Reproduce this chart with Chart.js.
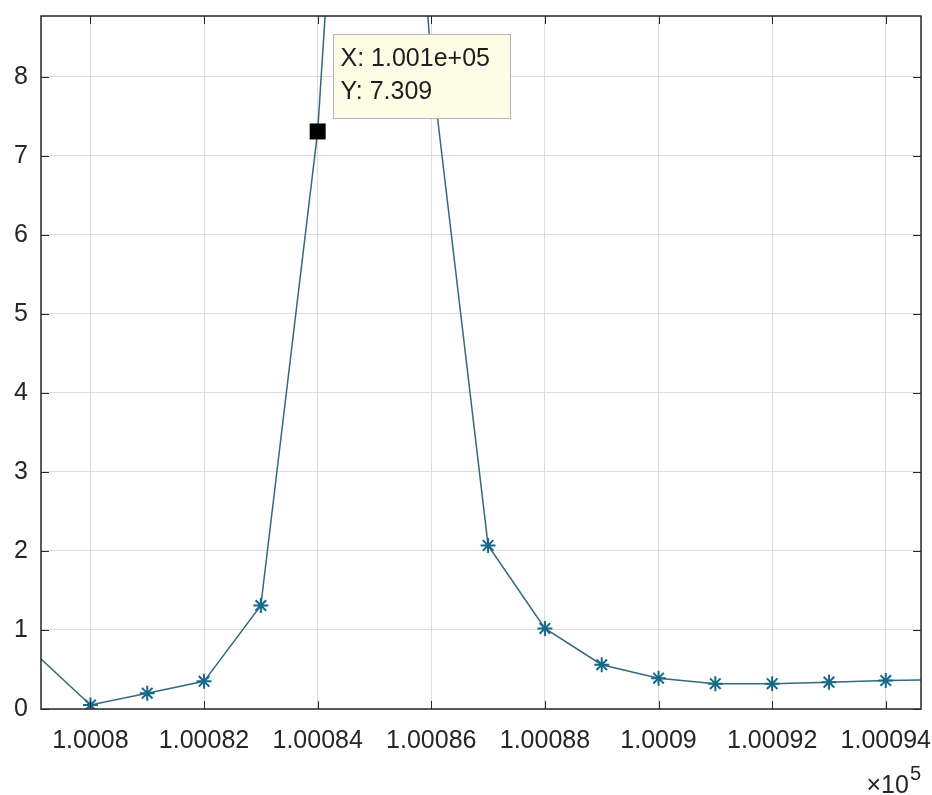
<!DOCTYPE html>
<html>
<head>
<meta charset="utf-8">
<script src="https://cdn.jsdelivr.net/npm/chart.js@4/dist/chart.umd.min.js"></script>
<style>
html,body{margin:0;padding:0;background:#fff;}
#wrap{width:932px;height:795px;position:relative;}
</style>
</head>
<body>
<div id="wrap"><canvas id="c" width="932" height="795"></canvas></div>
<script>
// ---- data ----
const xValues = [100079, 100080, 100081, 100082, 100083, 100084, 100085, 100086, 100087, 100088, 100089, 100090, 100091, 100092, 100093, 100094, 100095];
const yValues = [0.72, 0.05, 0.20, 0.35, 1.31, 7.309, 18.5, 8.15, 2.07, 1.02, 0.56, 0.39, 0.32, 0.32, 0.34, 0.36, 0.37];
const xTicks = [100080, 100082, 100084, 100086, 100088, 100090, 100092, 100094];
const xTickLabels = ['1.0008', '1.00082', '1.00084', '1.00086', '1.00088', '1.0009', '1.00092', '1.00094'];
const yTicks = [0, 1, 2, 3, 4, 5, 6, 7, 8];
const yTickLabels = ['0', '1', '2', '3', '4', '5', '6', '7', '8'];
const xRange = [100079.13, 100094.62];
const yRange = [0, 8.77];
const tipIndex = 5;
const axisExponent = '5';

const FONT = "'Liberation Sans', Arial, Helvetica, sans-serif";
const TXT = '#262626';

function fmtTipX(v) {
  const e = Math.floor(Math.log10(Math.abs(v)));
  const m = (v / Math.pow(10, e)).toFixed(3);
  return m + 'e' + (e >= 0 ? '+' : '-') + String(Math.abs(e)).padStart(2, '0');
}

const framePlugin = {
  id: 'frame',
  afterDraw(chart) {
    const { ctx, chartArea: a, scales } = chart;
    ctx.save();
    ctx.strokeStyle = '#262626';
    ctx.lineWidth = 1;
    const tl = 8;
    ctx.beginPath();
    xTicks.forEach(v => {
      const px = Math.round(scales.x.getPixelForValue(v)) + 0.5;
      ctx.moveTo(px, a.bottom); ctx.lineTo(px, a.bottom - tl);
      ctx.moveTo(px, a.top); ctx.lineTo(px, a.top + tl);
    });
    yTicks.forEach(v => {
      const py = Math.round(scales.y.getPixelForValue(v)) + 0.5;
      ctx.moveTo(a.left, py); ctx.lineTo(a.left + tl, py);
      ctx.moveTo(a.right, py); ctx.lineTo(a.right - tl, py);
    });
    ctx.stroke();
    ctx.lineWidth = 1.5;
    ctx.strokeStyle = '#262626';
    ctx.strokeRect(a.left, a.top, a.right - a.left, a.bottom - a.top);
    ctx.fillStyle = TXT;
    ctx.textBaseline = 'alphabetic';
    ctx.textAlign = 'right';
    ctx.font = '20px ' + FONT;
    ctx.fillText(axisExponent, a.right, 780);
    const sw = ctx.measureText(axisExponent).width;
    ctx.font = '25px ' + FONT;
    ctx.fillText('\u00d710', a.right - sw - 1, 793);
    ctx.restore();
  }
};

const tipPlugin = {
  id: 'datatip',
  afterDatasetsDraw(chart) {
    const { ctx } = chart;
    const pt = chart.getDatasetMeta(0).data[tipIndex];
    const px = pt.x, py = pt.y;
    ctx.save();
    const bx = Math.round(px + 15) + 0.5, by = Math.round(py - 97) + 0.5, bw = 177, bh = 84;
    ctx.fillStyle = '#fdfde6';
    ctx.fillRect(bx, by, bw, bh);
    ctx.strokeStyle = '#b4b4b4';
    ctx.lineWidth = 1;
    ctx.strokeRect(bx, by, bw, bh);
    ctx.fillStyle = '#1e1e1e';
    ctx.font = '25px ' + FONT;
    ctx.textAlign = 'left';
    ctx.textBaseline = 'middle';
    ctx.fillText('X: ' + fmtTipX(xValues[tipIndex]), bx + 7, by + 25);
    ctx.fillText('Y: ' + yValues[tipIndex].toFixed(3), bx + 7, by + 58);
    ctx.fillStyle = '#000';
    ctx.fillRect(px - 8, py - 8, 16, 16);
    ctx.restore();
  }
};

new Chart(document.getElementById('c'), {
  type: 'line',
  data: {
    datasets: [{
      data: xValues.map((x, i) => ({ x: x, y: yValues[i] })),
      borderColor: '#35687a',
      borderWidth: 1.5,
      pointStyle: 'star',
      pointRadius: 7.5,
      pointBorderWidth: 2,
      pointBorderColor: '#17698a',
      pointBackgroundColor: '#17698a',
      tension: 0,
      fill: false
    }]
  },
  options: {
    responsive: false,
    animation: false,
    events: [],
    layout: { padding: { left: 0, right: 11, top: 16, bottom: 0 } },
    plugins: { legend: { display: false }, tooltip: { enabled: false } },
    scales: {
      x: {
        type: 'linear',
        min: xRange[0], max: xRange[1],
        afterBuildTicks: s => { s.ticks = xTicks.map(v => ({ value: v })); },
        afterFit: s => { s.height = 86; s.paddingLeft = 0; s.paddingRight = 0; },
        grid: { color: '#dcdcdc', lineWidth: 1, drawTicks: false },
        border: { display: false },
        ticks: {
          padding: 17,
          color: TXT,
          font: { family: FONT, size: 25 },
          maxRotation: 0,
          autoSkip: false,
          callback: (v) => { const i = xTicks.indexOf(v); return i >= 0 ? xTickLabels[i] : ''; }
        }
      },
      y: {
        type: 'linear',
        min: yRange[0], max: yRange[1],
        afterBuildTicks: s => { s.ticks = yTicks.map(v => ({ value: v })); },
        afterFit: s => { s.width = 41; s.paddingTop = 0; s.paddingBottom = 0; },
        grid: { color: '#dcdcdc', lineWidth: 1, drawTicks: false },
        border: { display: false },
        ticks: {
          padding: 13,
          color: TXT,
          font: { family: FONT, size: 25 },
          autoSkip: false,
          callback: (v) => { const i = yTicks.indexOf(v); return i >= 0 ? yTickLabels[i] : ''; }
        }
      }
    }
  },
  plugins: [tipPlugin, framePlugin]
});
</script>
</body>
</html>
